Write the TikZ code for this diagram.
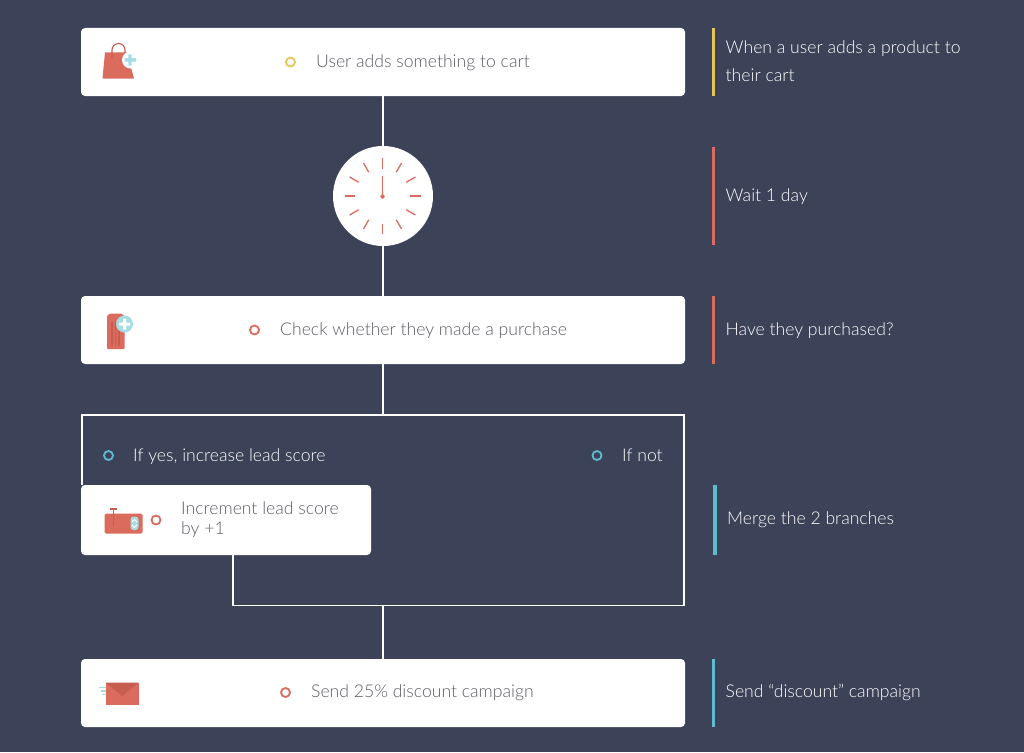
\documentclass[tikz,border=0pt]{standalone}
\usepackage{fontspec}
\setmainfont{Lato}[UprightFont={* Light}]
\usetikzlibrary{calc}
\definecolor{bgc}{HTML}{3C4257}
\definecolor{redc}{HTML}{DB6B5C}
\definecolor{darkred}{HTML}{C65D4F}
\definecolor{yelc}{HTML}{E5C556}
\definecolor{bluc}{HTML}{5FBCD0}
\definecolor{lblu}{HTML}{A6DCE6}
\definecolor{txtc}{HTML}{5C5D65}
\tikzset{
  card/.style={fill=white,rounded corners=4pt,minimum height=68pt,inner sep=0pt},
  wire/.style={draw=white,line width=1.7pt},
  sidebar/.style={line width=3.8pt},
  dot/.style={circle,draw=#1,line width=1.8pt,minimum size=9pt,inner sep=0pt},
  graytxt/.style={anchor=base west,inner sep=0pt,text=txtc,font=\fontsize{17.6}{20}\selectfont,align=left},
  sidetxt/.style={anchor=base west,inner sep=0pt,text=white,font=\fontsize{17.6}{25}\selectfont,align=left},
  tick/.style={draw=redc,line width=1.3pt}
}
\begin{document}
\begin{tikzpicture}[x=1pt,y=-1pt]
\fill[bgc] (0,0) rectangle (1024,752);
\useasboundingbox (0,0) rectangle (1024,752);
% cards and clock
\node[card,minimum width=604pt] (box1) at (383,62) {};
\node[card,minimum width=604pt] (box2) at (383,330) {};
\node[card,minimum width=604pt] (box3) at (383,693) {};
\node[card,minimum width=290pt,minimum height=70pt] (inc) at (226,520) {};
\node[circle,fill=white,minimum size=100pt,inner sep=0pt] (clock) at (383,196) {};
% connectors
\coordinate (bTL) at (81.8,415);
\coordinate (bTR) at (683.7,415);
\coordinate (bBR) at (683.7,605.5);
\coordinate (bBL) at (233,605.5);
\coordinate (top) at (box2.south |- bTL);
\coordinate (bot) at (box3.north |- bBL);
\draw[wire] (box1.south) -- (clock.north);
\draw[wire] (clock.south) -- (box2.north);
\draw[wire] (box2.south) -- (top);
\draw[wire] (bTL |- inc.north) -- (bTL) -- (bTR) -- (bBR) -- (bBL) -- (bBL |- inc.south);
\draw[wire] (bot) -- (box3.north);
% clock face
\foreach \a in {0,30,...,330}{
  \draw[tick] ($(382.5,196)+(\a:27.5pt)$) -- ($(382.5,196)+(\a:38pt)$);
}
\draw[draw=redc,line width=1.8pt] (382.5,196) -- (382.5,176);
\fill[redc] (382.5,196.5) circle (2.2pt);
% bag icon
\fill[redc] (105,52.5) -- (127,52.5) -- (134,78.5) -- (102.5,78.5) -- cycle;
\draw[darkred,line width=1.1pt] (112,58) -- (112,50) arc[start angle=180,end angle=0,radius=6.5pt] -- (125,53);
\fill[white] (130.5,60) circle (8.5pt);
\fill[lblu] (128.3,54.5) rectangle (131.7,65.5) (124.5,58.2) rectangle (136,61.7);
% tag icon
\fill[redc,rounded corners=1pt] (107,349) -- (107,316) -- (110,313.5) -- (121,313.5) -- (124.5,316) -- (124.5,349) -- cycle;
\draw[darkred,line width=1.1pt] (112,322) -- (112,346) (115.5,322) -- (115.5,346) (119,322) -- (119,346);
\fill[lblu] (124.5,324) circle (8.5pt);
\fill[white] (123,318.5) rectangle (126,329.5) (119,322.5) rectangle (130,325.5);
% increment icon
\fill[redc,rounded corners=1.5pt] (104.5,513.5) rectangle (142.5,533.5);
\draw[darkred,line width=1.5pt] (113.3,509) -- (113.3,526) (109.5,509) -- (117,509);
\fill[lblu,rounded corners=3pt] (130.5,516.5) rectangle (138.5,530);
\draw[white,line width=1pt] (132,522) -- (134.5,519.5) -- (137,522) (132,525) -- (134.5,527.5) -- (137,525);
% envelope icon
\fill[redc] (105.5,682.5) rectangle (138.5,704.5);
\fill[darkred] (105.5,682.5) -- (138.5,682.5) -- (122,696) -- cycle;
\draw[lblu,line width=1.1pt] (99,687.7) -- (105.5,687.7) (100.5,691) -- (105.5,691) (102,694.3) -- (105.5,694.3);
% dots
\node[dot=yelc] (d1) at (290.5,62) {};
\node[dot=redc] (d2) at (254.5,330) {};
\node[dot=bluc] (d3) at (108.5,455.5) {};
\node[dot=bluc] (d4) at (597,455.5) {};
\node[dot=redc] (d5) at (156,520) {};
\node[dot=redc] (d6) at (285.5,692.5) {};
% card text
\node[graytxt] (t1) at (316,67) {User adds something to cart};
\node[graytxt] (t2) at (280,335) {Check whether they made a purchase};
\node[graytxt] (t5) at (181,514.5) {Increment lead score};
\node[graytxt] (t5b) at (181,534) {by +1};
\node[graytxt] (t6) at (311,697.5) {Send 25\% discount campaign};
% branch text
\node[sidetxt] (t3) at (133,461) {If yes, increase lead score};
\node[sidetxt] (t4) at (622,461) {If not};
% side bars
\draw[sidebar,yelc] (713.5,28) -- (713.5,96);
\draw[sidebar,redc] (713.5,147) -- (713.5,245);
\draw[sidebar,redc] (713.5,296) -- (713.5,364);
\draw[sidebar,bluc] (715,485) -- (715,555);
\draw[sidebar,bluc] (713.5,659) -- (713.5,727);
% side text
\node[sidetxt] (s1) at (725.5,53) {When a user adds a product to};
\node[sidetxt] (s1b) at (725.5,81.5) {their cart};
\node[sidetxt] (s2) at (725.5,201) {Wait 1 day};
\node[sidetxt] (s3) at (725.5,335) {Have they purchased?};
\node[sidetxt] (s4) at (727,524) {Merge the 2 branches};
\node[sidetxt] (s5) at (725.5,697.5) {Send “discount” campaign};
\end{tikzpicture}
\end{document}
